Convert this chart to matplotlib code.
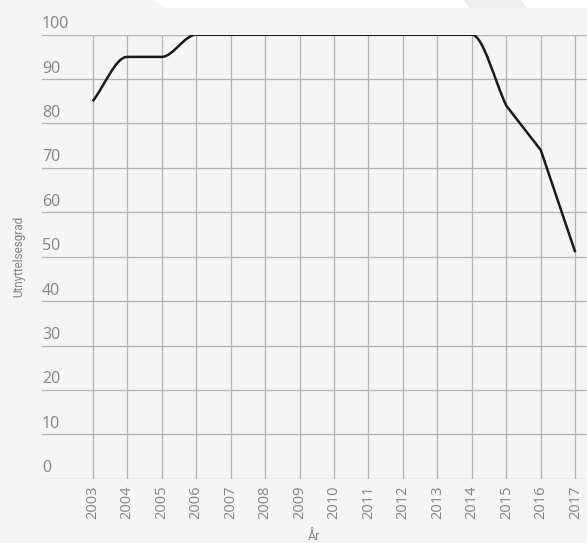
import matplotlib

matplotlib.use("Agg")
import matplotlib.pyplot as plt
import numpy as np
from matplotlib.path import Path
from matplotlib.patches import PathPatch, Polygon
from matplotlib.transforms import ScaledTranslation

years = [2003, 2004, 2005, 2006, 2007, 2008, 2009, 2010, 2011, 2012, 2013, 2014, 2015, 2016, 2017]
utilisation = [85, 95, 95, 100, 100, 100, 100, 100, 100, 100, 100, 100, 84, 74, 51]
y_ticks = [0, 10, 20, 30, 40, 50, 60, 70, 80, 90, 100]

BG = "#f5f5f5"
GRID = "#b4b4b4"
TEXT = "#848484"
FONT = ["Open Sans", "DejaVu Sans"]
NARROW = ["Roboto", "DejaVu Sans"]


def smooth_path(x, y):
    """Bezier path through the points: flat tangent at plateau/turning points,
    otherwise each segment keeps its own chord slope (so runs of one direction
    stay straight, as in the original chart)."""
    x = np.asarray(x, float)
    y = np.asarray(y, float)
    s = np.diff(y) / np.diff(x)

    def flat(i):
        if i == 0 or i == len(x) - 1:
            return False
        return s[i - 1] * s[i] <= 0

    verts = [(x[0], y[0])]
    codes = [Path.MOVETO]
    for i in range(len(x) - 1):
        dx = (x[i + 1] - x[i]) / 3
        t0 = 0 if flat(i) else s[i]
        t1 = 0 if flat(i + 1) else s[i]
        verts += [(x[i] + dx, y[i] + dx * t0), (x[i + 1] - dx, y[i + 1] - dx * t1), (x[i + 1], y[i + 1])]
        codes += [Path.CURVE4] * 3
    return Path(verts, codes)


fig = plt.figure(figsize=(5.87, 5.43), dpi=100, facecolor=BG)

# white strip at the very top with faint diagonal shapes
W, H = 587, 543
fig.patches.append(Polygon([(153 / W, 1), (1, 1), (1, (H - 8) / H), (167 / W, (H - 8) / H)],
                           closed=True, transform=fig.transFigure, facecolor="white", edgecolor="none"))
fig.patches.append(Polygon([(464 / W, 1), (521 / W, 1), (527 / W, (H - 8) / H), (469 / W, (H - 8) / H)],
                           closed=True, transform=fig.transFigure, facecolor="#eeeeee", edgecolor="none"))

ax = fig.add_axes([42 / W, 64.3 / H, (W - 42) / W, 444 / H])
ax.set_facecolor(BG)
ax.set_xlim(2001.53, 2017.34)
ax.set_ylim(0, 100)
ax.set_xticks(years)
ax.set_xticklabels([str(y) for y in years], rotation=90, fontsize=10.5, color=TEXT, family=FONT, va="top")
ax.set_yticks(y_ticks)
ax.set_yticklabels([str(v) for v in y_ticks], fontsize=11.5, color=TEXT, family=FONT)
ax.tick_params(axis="both", length=0)
ax.tick_params(axis="y", pad=0)
ax.tick_params(axis="x", pad=5)
for lab in ax.get_yticklabels():
    lab.set_ha("left")
    lab.set_va("baseline")
    lab.set_transform(lab.get_transform() + ScaledTranslation(0, 0.065, fig.dpi_scale_trans))

for s in ax.spines.values():
    s.set_visible(False)
ax.grid(True, color=GRID, linewidth=0.9)
ax.set_axisbelow(True)

ax.add_patch(PathPatch(smooth_path(years, utilisation), facecolor="none", edgecolor="#1a1a1a",
                       linewidth=1.8, capstyle="butt", joinstyle="round", zorder=3))

ax.set_ylabel("Utnyttelsesgrad", fontsize=8.5, color=TEXT, family=NARROW, va="center")
ax.yaxis.set_label_coords((19 - 42) / (W - 42), 0.5)
ax.set_xlabel("År", fontsize=9, color=TEXT, family=NARROW, va="center")
ax.xaxis.set_label_coords(0.5, -(536 - 478.7) / 444)

fig.savefig("out.png", dpi=100, facecolor=BG)
